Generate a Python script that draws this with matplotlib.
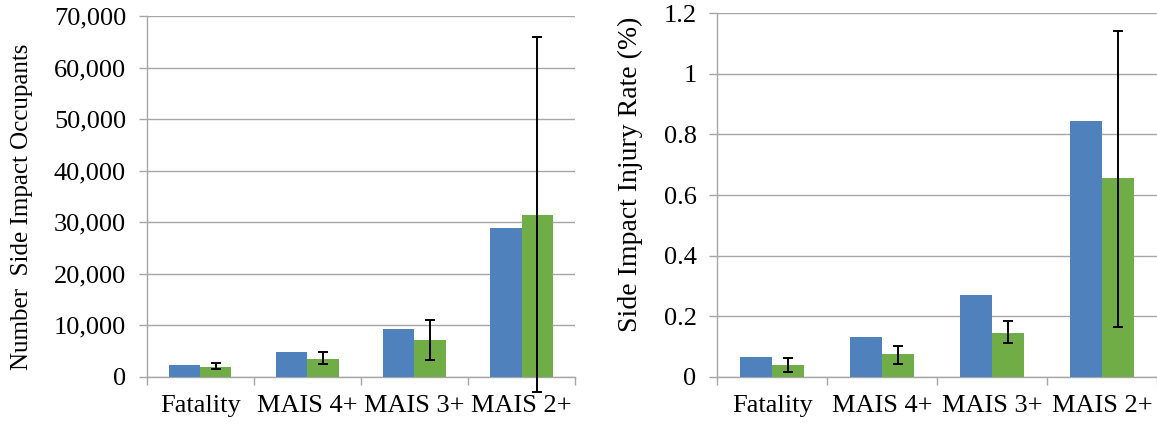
import matplotlib
matplotlib.use("Agg")
import matplotlib.pyplot as plt
import numpy as np
from matplotlib.ticker import FuncFormatter, MultipleLocator

plt.rcParams['font.family'] = ['Liberation Serif', 'DejaVu Serif']

categories = ["Fatality", "MAIS 4+", "MAIS 3+", "MAIS 2+"]

# Left: number of side impact occupants
count_blue = [2300, 4800, 9300, 28950]
count_green = [2000, 3550, 7170, 31350]
count_err_hi = [2800, 4900, 11000, 65900]
count_err_lo = [1600, 2500, 3350, -2900]

# Right: side impact injury rate (%)
rate_blue = [0.065, 0.132, 0.269, 0.844]
rate_green = [0.040, 0.075, 0.146, 0.656]
rate_err_hi = [0.064, 0.103, 0.186, 1.141]
rate_err_lo = [0.0155, 0.042, 0.113, 0.165]

BLUE = '#4F81BD'
GREEN = '#70AD47'
GRID = '#A6A6A6'
FS = 19

fig = plt.figure(figsize=(11.57, 4.25), dpi=100)
ax1 = fig.add_axes([0.127, 0.113, 0.370, 0.849])
ax2 = fig.add_axes([0.620, 0.113, 0.380, 0.856])


def draw(ax, blue, green, hi, lo, ymax, step, fmt, ylabel, ylfs, lx, ly):
    x = np.arange(len(categories))
    w = 0.29
    ax.bar(x - w / 2, blue, w, color=BLUE, edgecolor='none', zorder=3)
    ax.bar(x + w / 2, green, w, color=GREEN, edgecolor='none', zorder=3)
    g = np.array(green)
    yerr = [g - np.array(lo), np.array(hi) - g]
    ax.errorbar(x + w / 2, g, yerr=yerr, fmt='none', ecolor='black',
                elinewidth=1.4, capsize=3.6, capthick=1.4, zorder=4, clip_on=False)
    ax.set_xlim(-0.5, len(categories) - 0.5)
    ax.set_ylim(0, ymax)
    ax.yaxis.set_major_locator(MultipleLocator(step))
    ax.yaxis.set_major_formatter(FuncFormatter(fmt))
    ax.set_xticks(x)
    ax.set_xticklabels(categories, fontsize=FS)
    ax.set_xticks(np.arange(len(categories) + 1) - 0.5, minor=True)
    ax.tick_params(axis='x', which='major', length=0, pad=13)
    ax.tick_params(axis='x', which='minor', length=6, color=GRID, width=1)
    ax.tick_params(axis='y', length=6, color=GRID, width=1, labelsize=FS, pad=9)
    ax.grid(axis='y', color=GRID, lw=1, zorder=0)
    for s in ['top', 'right']:
        ax.spines[s].set_visible(False)
    for s in ['left', 'bottom']:
        ax.spines[s].set_color(GRID)
        ax.spines[s].set_linewidth(1)
    ax.set_ylabel(ylabel, fontsize=ylfs)
    ax.yaxis.set_label_coords(lx, ly)
    ax.set_axisbelow(True)


draw(ax1, count_blue, count_green, count_err_hi, count_err_lo, 70000, 10000,
     lambda v, p: f"{int(round(v)):,}", "Number  Side Impact Occupants", 18,
     -0.266, 0.471)
draw(ax2, rate_blue, rate_green, rate_err_hi, rate_err_lo, 1.2, 0.2,
     lambda v, p: f"{round(v, 1):g}", "Side Impact Injury Rate (%)", 20,
     -0.170, 0.558)

fig.savefig("out.png", dpi=100)
